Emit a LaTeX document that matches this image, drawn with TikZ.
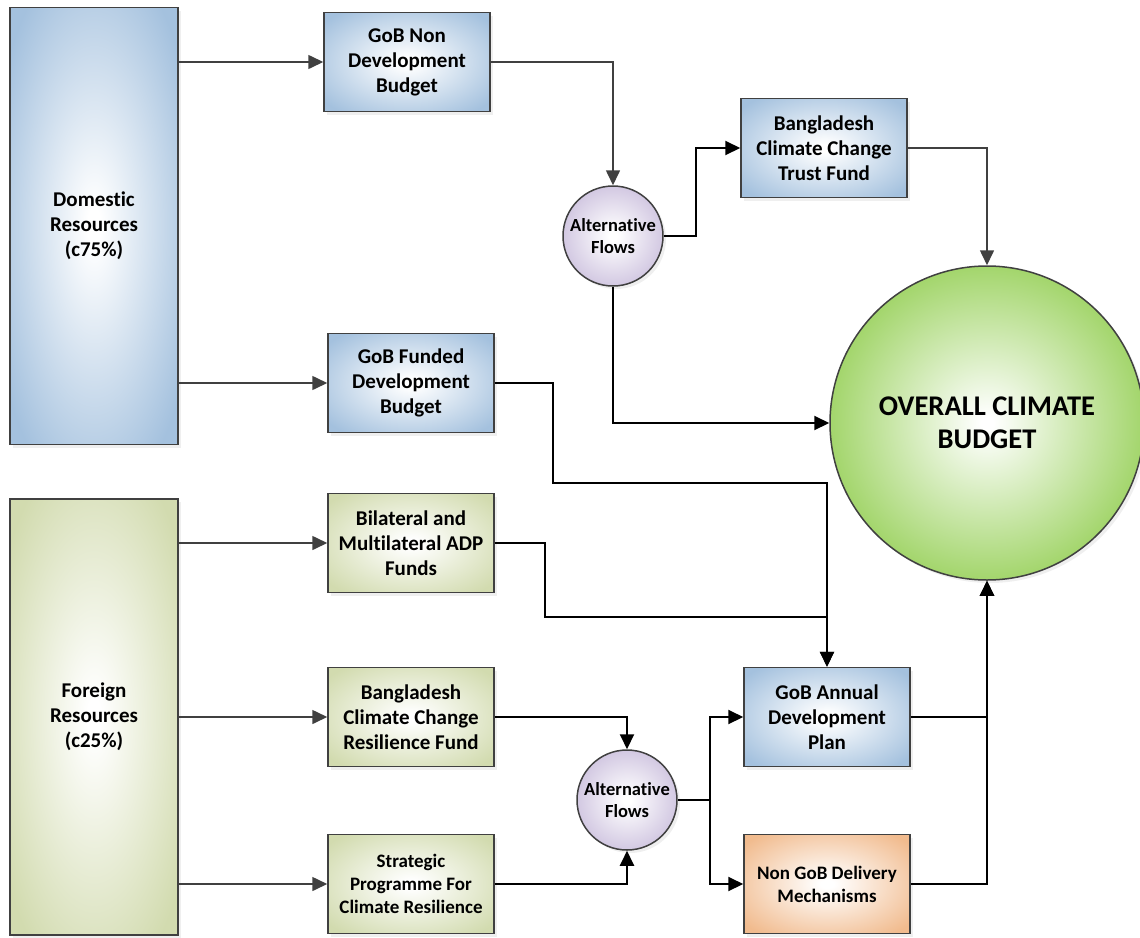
\documentclass[tikz,border=0pt]{standalone}
\usepackage{fontspec}
\setmainfont{Carlito}[Ligatures={NoCommon,NoContextual},Contextuals=NoAlternate]
\usepackage{tikz}
\usetikzlibrary{positioning}
\usetikzlibrary{arrows.meta}
\usetikzlibrary{shadows}

\definecolor{edgegray}{HTML}{404040}
\definecolor{bluefill}{HTML}{A4C1DE}
\definecolor{olivefill}{HTML}{D2DBAF}
\definecolor{lilacfill}{HTML}{BDAED4}
\definecolor{limefill}{HTML}{8CCB47}
\definecolor{peachfill}{HTML}{F1BB8E}

\pgfdeclareradialshading{glowblue}{\pgfpoint{0bp}{0bp}}{color(0bp)=(white); color(2bp)=(white); color(32bp)=(bluefill); color(100bp)=(bluefill)}
\pgfdeclareradialshading{glowolive}{\pgfpoint{0bp}{0bp}}{color(0bp)=(white); color(2bp)=(white); color(32bp)=(olivefill); color(100bp)=(olivefill)}
\pgfdeclareradialshading{glowlilac}{\pgfpoint{0bp}{0bp}}{color(0bp)=(white); color(2bp)=(white); color(36bp)=(lilacfill); color(100bp)=(lilacfill)}
\pgfdeclareradialshading{glowlime}{\pgfpoint{0bp}{0bp}}{color(0bp)=(white); color(1bp)=(white); color(31bp)=(limefill); color(100bp)=(limefill)}
\pgfdeclareradialshading{glowpeach}{\pgfpoint{0bp}{0bp}}{color(0bp)=(white); color(2bp)=(white); color(32bp)=(peachfill); color(100bp)=(peachfill)}

\tikzset{
  fundbox/.style={rectangle, shade, draw=edgegray, line width=1.5pt, minimum width=166pt,
    minimum height=99pt, inner sep=2pt, align=center, font=\bfseries\fontsize{21}{25}\selectfont,
    drop shadow={shadow xshift=3pt, shadow yshift=-3pt, fill=black!12}},
  bluebox/.style={fundbox, shading=glowblue},
  olivebox/.style={fundbox, shading=glowolive},
  sourcebox/.style={minimum width=168pt},
  smalltext/.style={font=\bfseries\fontsize{19}{23}\selectfont},
  flowdisc/.style={circle, shade, shading=glowlilac, draw=edgegray, line width=1.5pt,
    minimum size=100pt, inner sep=0pt, align=center, font=\bfseries\fontsize{18.5}{22}\selectfont,
    drop shadow={shadow xshift=3pt, shadow yshift=-3pt, fill=black!12}},
  feed/.style={draw=edgegray, line width=1.6pt, -{Triangle[length=15pt,width=14pt]}},
  flow/.style={draw=black, line width=2pt, -{Triangle[length=15pt,width=14pt]}},
}

\begin{document}
\begin{tikzpicture}[x=1pt,y=-1pt]
    \useasboundingbox (0,0) rectangle (1140,937);
    % sources
    \node[bluebox,sourcebox,minimum height=437pt] (dom) at (94,226) {Domestic\\Resources\\(c75\%)};
    \node[olivebox,sourcebox,minimum height=436pt] (for) at (94,717) {Foreign\\Resources\\(c25\%)};
    % budgets and funds
    \node[bluebox] (nondev) at (407,62) {GoB Non\\Development\\Budget};
    \node[bluebox] (funded) at (411,383) {GoB Funded\\Development\\Budget};
    \node[olivebox] (bilat) at (411,543) {Bilateral and\\Multilateral ADP\\Funds};
    \node[olivebox] (bccrf) [below=73.5pt of bilat] {Bangladesh\\Climate Change\\Resilience Fund};
    \node[olivebox,smalltext] (spcr) [below=66.5pt of bccrf] {Strategic\\Programme For\\Climate Resilience};
    \node[flowdisc] (altup) at (613,236) {Alternative\\Flows};
    \node[flowdisc] (altlow) at (627,800) {Alternative\\Flows};
    \node[bluebox] (bcctf) at (824,148) {Bangladesh\\Climate Change\\Trust Fund};
    \node[bluebox] (annual) at (827,717) {GoB Annual\\Development\\Plan};
    \node[fundbox,shading=glowpeach,smalltext] (nongob) [below=66.5pt of annual] {Non GoB Delivery\\Mechanisms};
    \node[circle, shade, shading=glowlime, draw=edgegray, line width=1.5pt, minimum size=314pt,
      align=center, font=\bfseries\fontsize{28.5}{33}\selectfont,
      drop shadow={shadow xshift=3pt, shadow yshift=-3pt, fill=black!12}] (overall) at (987,423) {OVERALL CLIMATE\\BUDGET};
    \coordinate (fbend) at (553,483);
    \coordinate (bbend) at (545,617);
    % connectors
    \draw[feed] (dom.east |- nondev.west) -- (nondev.west);
    \draw[feed] (dom.east |- funded.west) -- (funded.west);
    \draw[feed] (for.east |- bilat.west) -- (bilat.west);
    \draw[feed] (for.east |- bccrf.west) -- (bccrf.west);
    \draw[feed] (for.east |- spcr.west) -- (spcr.west);
    \draw[feed] (nondev.east) -| (altup.north);
    \draw[feed] (bcctf.east) -| (overall.north);
    \draw[flow] (altup.east) -- ++(32,0) |- (bcctf.west);
    \draw[flow] (altup.south) |- (overall.west);
    \draw[flow] (funded.east) -| (fbend) -| (annual.north);
    \draw[flow] (bilat.east) -| (bbend) -| (annual.north);
    \draw[flow] (bccrf.east) -| (altlow.north);
    \draw[flow] (spcr.east) -| (altlow.south);
    \draw[flow] (altlow.east) -- ++(32,0) coordinate (split) |- (annual.west);
    \draw[flow] (split) |- (nongob.west);
    \draw[flow] (annual.east) -| (overall.south);
    \draw[flow] (nongob.east) -| (overall.south);
\end{tikzpicture}
\end{document}
